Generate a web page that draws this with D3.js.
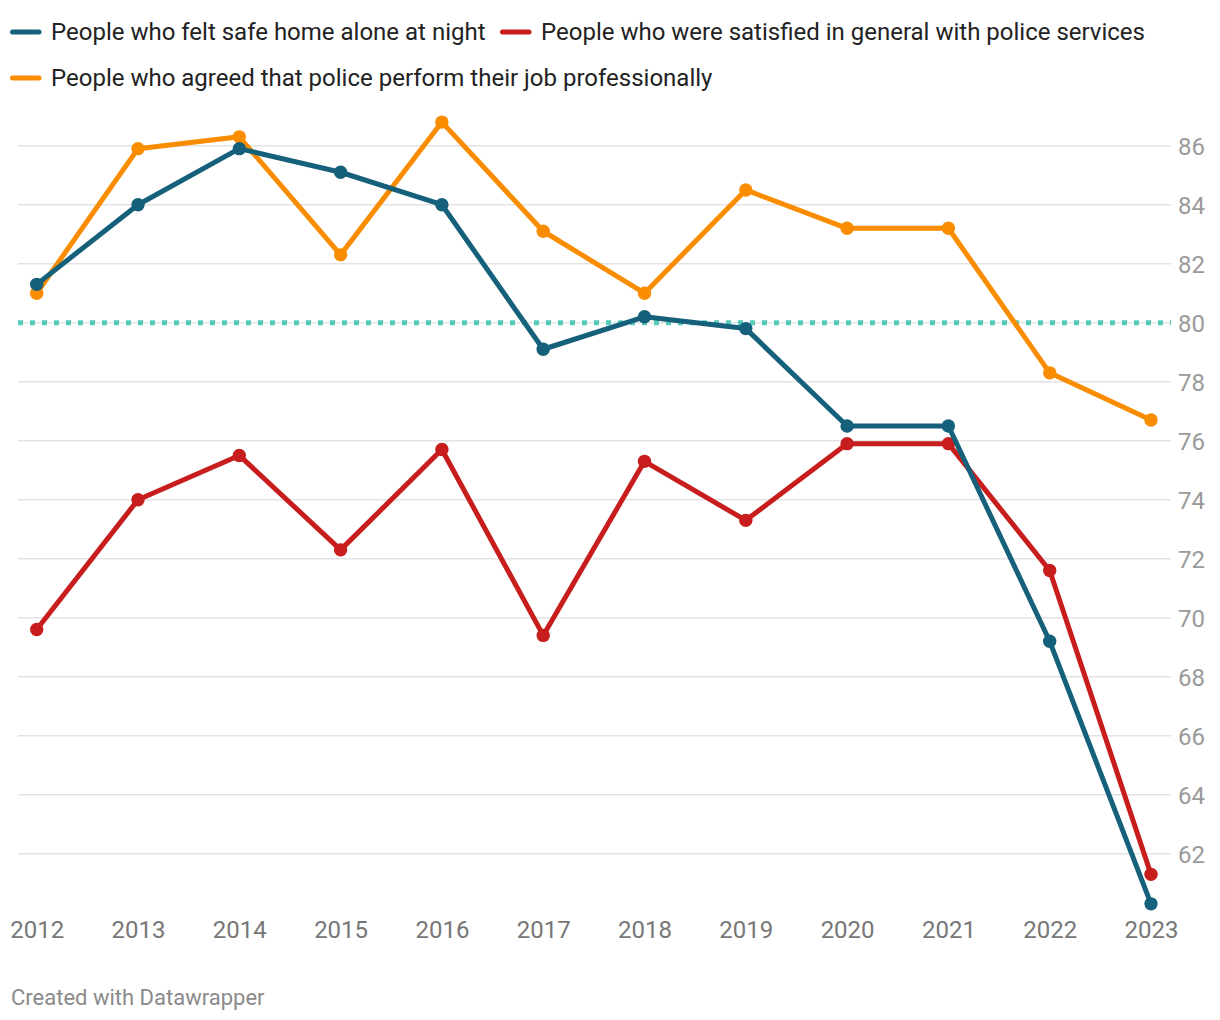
<!DOCTYPE html>
<html>
<head>
<meta charset="utf-8">
<script src="https://cdn.jsdelivr.net/npm/d3@7"></script>
<style>
  html, body { margin: 0; padding: 0; background: #fff; }
  svg { display: block; font-family: Roboto, "Noto Sans", sans-serif; }
</style>
</head>
<body>
<svg id="chart" width="1220" height="1020"></svg>
<script>
const years = [2012, 2013, 2014, 2015, 2016, 2017, 2018, 2019, 2020, 2021, 2022, 2023];
const feltSafe = [81.3, 84.0, 85.9, 85.1, 84.0, 79.1, 80.2, 79.8, 76.5, 76.5, 69.2, 60.3];
const satisfied = [69.6, 74.0, 75.5, 72.3, 75.7, 69.4, 75.3, 73.3, 75.9, 75.9, 71.6, 61.3];
const professional = [81.0, 85.9, 86.3, 82.3, 86.8, 83.1, 81.0, 84.5, 83.2, 83.2, 78.3, 76.7];
const yTicks = [62, 64, 66, 68, 70, 72, 74, 76, 78, 80, 82, 84, 86];
const targetValue = 80;
const seriesNames = [
  "People who felt safe home alone at night",
  "People who were satisfied in general with police services",
  "People who agreed that police perform their job professionally"
];
const colors = ["#15607a", "#c71e1d", "#fa8c00"];
const footer = "Created with Datawrapper";

const series = [
  { name: seriesNames[0], values: feltSafe, color: colors[0] },
  { name: seriesNames[1], values: satisfied, color: colors[1] },
  { name: seriesNames[2], values: professional, color: colors[2] }
];

const svg = d3.select("#chart");
const x = d3.scaleLinear().domain([2012, 2023]).range([36.7, 1151]);
const y = d3.scaleLinear().domain([62, 86]).range([853.7, 145.7]);
const gridX0 = 18, gridX1 = 1171;

// gridlines
svg.append("g").selectAll("line").data(yTicks).join("line")
  .attr("x1", gridX0).attr("x2", gridX1)
  .attr("y1", d => y(d)).attr("y2", d => y(d))
  .attr("stroke", "#e3e3e3").attr("stroke-width", 1.6);

// y labels (right)
const yAxis = d3.axisRight(y).tickValues(yTicks).tickSize(0).tickPadding(0);
const ya = svg.append("g").attr("transform", "translate(1178,0)").call(yAxis);
ya.select(".domain").remove();
ya.selectAll("text").attr("fill", "#9a9a9a").style("font-size", "24px")
  .style("font-family", "Roboto").attr("dy", "0.36em");

// x labels
const xAxis = d3.axisBottom(x).tickValues(years).tickFormat(d3.format("d")).tickSize(0).tickPadding(0);
const xa = svg.append("g").attr("transform", "translate(0,922)").call(xAxis);
xa.select(".domain").remove();
xa.selectAll("text").attr("fill", "#777").style("font-size", "24px")
  .style("font-family", "Roboto").attr("dy", "0.35em").attr("y", 8);

// target dotted line
svg.append("line")
  .attr("x1", gridX0).attr("x2", gridX1)
  .attr("y1", y(targetValue)).attr("y2", y(targetValue))
  .attr("stroke", "#54ccb9").attr("stroke-width", 5)
  .attr("stroke-dasharray", "5,7");

// lines: draw orange, red, blue (blue on top)
const line = d3.line().x((d, i) => x(years[i])).y(d => y(d));
[series[2], series[1], series[0]].forEach(s => {
  const g = svg.append("g");
  g.append("path").datum(s.values).attr("d", line)
    .attr("fill", "none").attr("stroke", s.color).attr("stroke-width", 5)
    .attr("stroke-linejoin", "round");
  g.selectAll("circle").data(s.values).join("circle")
    .attr("cx", (d, i) => x(years[i])).attr("cy", d => y(d))
    .attr("r", 6.7).attr("fill", s.color);
});

// legend
const legendItems = [
  { s: series[0], x: 10, y: 32 },
  { s: series[1], x: 500, y: 32 },
  { s: series[2], x: 10, y: 78 }
];
const lg = svg.append("g");
legendItems.forEach(it => {
  lg.append("line")
    .attr("x1", it.x + 2.5).attr("x2", it.x + 29)
    .attr("y1", it.y).attr("y2", it.y)
    .attr("stroke", it.s.color).attr("stroke-width", 5).attr("stroke-linecap", "round");
  lg.append("text")
    .attr("x", it.x + 41).attr("y", it.y).attr("dy", "0.35em")
    .attr("fill", "#222").style("font-size", "24px").style("font-family", "Roboto")
    .text(it.s.name);
});

// footer
svg.append("text").attr("x", 11).attr("y", 997).attr("dy", "0.35em")
  .attr("fill", "#8a8a8a").style("font-size", "22px").style("font-family", "Roboto")
  .text(footer);
</script>
</body>
</html>
